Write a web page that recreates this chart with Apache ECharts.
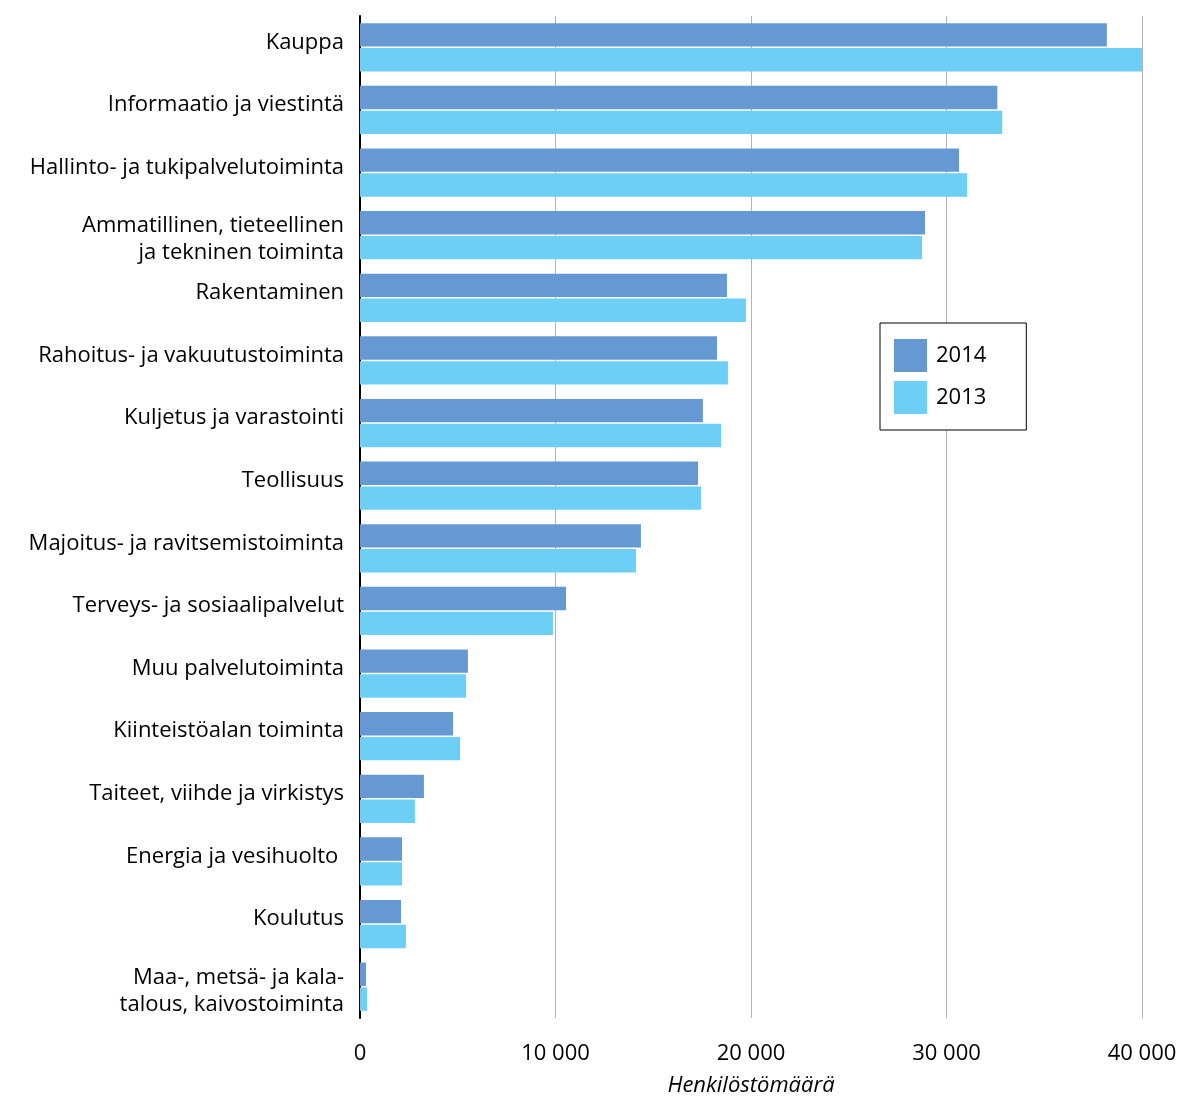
<!DOCTYPE html>
<html>
<head>
<meta charset="utf-8">
<script src="https://cdn.jsdelivr.net/npm/echarts@6/dist/echarts.min.js"></script>
<style>
  html, body { margin: 0; padding: 0; background: #fff; }
  #chart { width: 1187px; height: 1097px; }
</style>
</head>
<body>
<div id="chart"></div>
<script>
var categories = [
    'Kauppa',
    'Informaatio ja viestintä',
    'Hallinto- ja tukipalvelutoiminta',
    'Ammatillinen, tieteellinen\nja tekninen toiminta',
    'Rakentaminen',
    'Rahoitus- ja vakuutustoiminta',
    'Kuljetus ja varastointi',
    'Teollisuus',
    'Majoitus- ja ravitsemistoiminta',
    'Terveys- ja sosiaalipalvelut',
    'Muu palvelutoiminta',
    'Kiinteistöalan toiminta',
    'Taiteet, viihde ja virkistys',
    'Energia ja vesihuolto ',
    'Koulutus',
    'Maa-, metsä- ja kala-\ntalous, kaivostoiminta'
];
var values2014 = [38200, 32600, 30640, 28900, 18770, 18260, 17540, 17290, 14370, 10540, 5520, 4760, 3270, 2150, 2100, 310];
var values2013 = [40000, 32850, 31050, 28750, 19740, 18820, 18470, 17440, 14120, 9870, 5420, 5120, 2810, 2150, 2350, 360];
var xTicks = [0, 10000, 20000, 30000, 40000];

var font = 'Open Sans';
var fs = 22;

var myChart = echarts.init(document.getElementById('chart'));
var option = {
    backgroundColor: '#fff',
    animation: false,
    grid: {
        left: 360,
        right: 45,
        top: 16,
        bottom: 79,
        containLabel: false,
        outerBoundsMode: 'none'
    },
    legend: {
        orient: 'vertical',
        left: 880,
        top: 323,
        icon: 'rect',
        itemWidth: 33,
        itemHeight: 33,
        itemGap: 9,
        padding: [16, 40, 16, 14],
        borderColor: '#000',
        borderWidth: 1,
        backgroundColor: '#fff',
        textStyle: { fontFamily: font, fontSize: fs, color: '#000', padding: [0, 0, 0, 4] },
        data: ['2014', '2013']
    },
    xAxis: {
        type: 'value',
        min: xTicks[0],
        max: xTicks[xTicks.length - 1],
        interval: 10000,
        name: 'Henkilöstömäärä',
        nameLocation: 'middle',
        nameGap: 57,
        nameTextStyle: { fontFamily: font, fontSize: fs, fontStyle: 'italic', color: '#000' },
        axisLine: { show: false },
        axisTick: { show: false },
        axisLabel: {
            fontFamily: font,
            fontSize: fs,
            color: '#000',
            margin: 25,
            formatter: function (v) {
                return String(v).replace(/\B(?=(\d{3})+(?!\d))/g, ' ');
            }
        },
        splitLine: { show: true, lineStyle: { color: '#b3b3b3', width: 1 } }
    },
    yAxis: {
        type: 'category',
        inverse: true,
        data: categories,
        axisLine: { show: true, lineStyle: { color: '#000', width: 2 } },
        axisTick: { show: false },
        axisLabel: {
            fontFamily: font,
            fontSize: fs,
            color: '#000',
            margin: 16,
            align: 'right',
            formatter: function (v) {
                if (v.indexOf('\n') >= 0) {
                    return v.split('\n').map(function (s) { return '{m|' + s + '}'; }).join('\n');
                }
                return '{s|' + v + '}';
            },
            rich: {
                s: { fontFamily: font, fontSize: fs, color: '#000', padding: [0, 0, 10, 0] },
                m: { fontFamily: font, fontSize: fs, color: '#000', lineHeight: 27, padding: [9, 0, 0, 0] }
            }
        }
    },
    series: [
        {
            name: '2014',
            type: 'bar',
            data: values2014,
            barGap: '6%',
            barCategoryGap: '23%',
            itemStyle: { color: '#6699d3' }
        },
        {
            name: '2013',
            type: 'bar',
            data: values2013,
            itemStyle: { color: '#6dcff6' }
        }
    ]
};
myChart.setOption(option);
</script>
</body>
</html>
